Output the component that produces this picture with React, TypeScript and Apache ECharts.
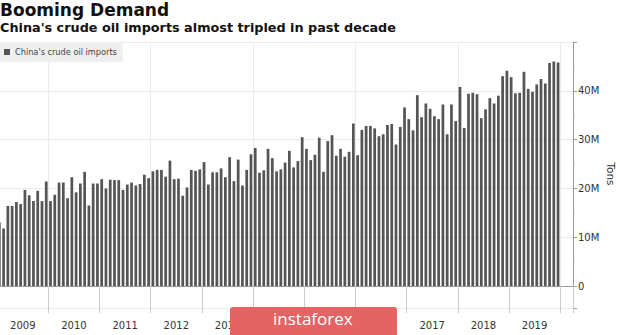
import React, { useEffect, useRef } from 'react';
import * as echarts from 'echarts';

// Monthly crude oil imports, million tons
const years = ['2009', '2010', '2011', '2012', '2013', '2014', '2015', '2016', '2017', '2018', '2019'];
const monthCodes = ['01', '02', '03', '04', '05', '06', '07', '08', '09', '10', '11', '12'];
const trailingEmptyMonths = ['2020-01', '2020-02', '2020-03'];
// year labels hidden behind the watermark in the reference
const hiddenYearLabels = ['2014', '2015', '2016'];

const imports2009 = [13.0, 11.8, 16.4, 16.4, 17.2, 16.8, 19.7, 18.6, 17.4, 19.5, 17.4, 21.4];
const imports2010 = [17.4, 18.7, 21.2, 21.2, 18.0, 22.3, 19.2, 21.0, 23.4, 16.5, 21.0, 21.0];
const imports2011 = [21.9, 20.0, 21.8, 21.7, 21.7, 19.7, 20.8, 21.2, 20.6, 20.9, 22.8, 22.1];
const imports2012 = [23.5, 23.8, 23.8, 22.4, 25.7, 21.9, 22.0, 18.5, 20.2, 23.8, 23.6, 23.9];
const imports2013 = [25.4, 20.8, 23.3, 23.3, 24.1, 22.3, 26.4, 21.5, 25.9, 20.6, 23.8, 27.0];
const imports2014 = [28.3, 23.2, 23.7, 28.1, 26.2, 23.5, 23.9, 25.3, 27.7, 24.3, 25.6, 30.5];
const imports2015 = [28.1, 25.8, 26.9, 30.4, 23.4, 29.7, 30.9, 26.7, 28.1, 26.5, 27.5, 33.3];
const imports2016 = [26.8, 32.0, 32.8, 32.8, 32.3, 30.7, 31.1, 33.0, 33.2, 29.0, 32.6, 36.6];
const imports2017 = [34.2, 31.9, 39.1, 34.6, 37.4, 36.3, 34.8, 34.2, 37.2, 31.1, 37.2, 33.8];
const imports2018 = [40.8, 32.4, 39.4, 39.6, 39.3, 34.4, 36.2, 38.5, 37.4, 39.0, 43.0, 44.1];
const imports2019 = [42.8, 39.5, 39.6, 43.9, 40.4, 39.8, 41.3, 42.4, 41.5, 45.7, 46.0, 45.8];

const yTickLabels = ['0', '10M', '20M', '30M', '40M'];
const seriesName = "China's crude oil imports";
const yAxisTitle = 'Tons';

export default function App() {
  const ref = useRef<HTMLDivElement>(null);

  useEffect(() => {
    if (!ref.current) return;
    const chart = echarts.init(ref.current, null, { renderer: 'svg' });

    const categories = [
      ...years.flatMap((y) => monthCodes.map((m) => `${y}-${m}`)),
      ...trailingEmptyMonths,
    ];
    const values = [
      ...imports2009, ...imports2010, ...imports2011, ...imports2012,
      ...imports2013, ...imports2014, ...imports2015, ...imports2016,
      ...imports2017, ...imports2018, ...imports2019,
    ].map((v) => v * 1e6);

    const font = 'DejaVu Sans';

    chart.setOption({
      animation: false,
      backgroundColor: '#ffffff',
      textStyle: { fontFamily: font },
      title: {
        text: 'Booming Demand',
        subtext: "China's crude oil imports almost tripled in past decade",
        left: 0,
        top: 1,
        padding: 0,
        itemGap: 3,
        textStyle: { fontSize: 17, fontWeight: 'bold', color: '#111', fontFamily: font },
        subtextStyle: { fontSize: 12.8, fontWeight: 'bold', color: '#111', fontFamily: font },
      },
      legend: {
        left: 0,
        top: 42,
        backgroundColor: '#efefef',
        padding: [6, 6, 6, 4],
        itemWidth: 6,
        itemHeight: 6,
        icon: 'rect',
        textStyle: { fontSize: 8.2, color: '#444', fontFamily: font },
        data: [seriesName],
      },
      grid: {
        left: -2.8,
        right: 47,
        top: 42,
        bottom: 27,
        containLabel: false,
        outerBoundsMode: 'none',
      },
      xAxis: {
        type: 'category',
        data: categories,
        boundaryGap: true,
        axisLine: { show: true, lineStyle: { color: '#999' } },
        axisTick: {
          show: true,
          interval: (i: number) => i % 12 === 0,
          length: 27,
          lineStyle: { color: '#cccccc' },
        },
        axisLabel: {
          interval: (i: number, v: string) =>
            i % 12 === 6 && hiddenYearLabels.indexOf(v.slice(0, 4)) < 0,
          formatter: (v: string) => v.slice(0, 4),
          margin: 12,
          fontSize: 10,
          color: '#333',
          fontFamily: font,
          padding: [0, 4.3, 0, 0],
        },
        splitLine: {
          show: true,
          interval: (i: number) => i % 24 === 12,
          lineStyle: { color: '#ebebeb' },
        },
      },
      yAxis: {
        type: 'value',
        position: 'right',
        min: -4.5e6,
        max: 50e6,
        splitNumber: 5,
        axisLine: { show: true, lineStyle: { color: '#999' } },
        axisTick: { show: true, length: 4, lineStyle: { color: '#999' } },
        minorTick: { show: true, splitNumber: 2, length: 2, lineStyle: { color: '#bbb' } },
        axisLabel: {
          margin: 5,
          fontSize: 10,
          color: '#333',
          fontFamily: font,
          formatter: (value: number) => {
            const k = value / 1e7;
            const r = Math.round(k);
            if (Math.abs(k - r) < 1e-6 && r >= 0 && r < yTickLabels.length) return yTickLabels[r];
            return '';
          },
        },
        splitLine: { show: true, lineStyle: { color: '#ebebeb' } },
      },
      series: [
        {
          type: 'bar',
          name: seriesName,
          data: values,
          barWidth: '64%',
          itemStyle: { color: '#555555' },
        },
      ],
      graphic: [
        {
          type: 'text',
          x: 611,
          y: 174,
          rotation: -Math.PI / 2,
          style: {
            text: yAxisTitle,
            fill: '#333',
            fontSize: 10.5,
            fontFamily: font,
            align: 'center',
            verticalAlign: 'middle',
          },
        },
        {
          type: 'rect',
          left: 230,
          top: 307,
          z: 1000,
          shape: { x: 0, y: 0, width: 167, height: 28, r: [3, 3, 0, 0] },
          style: { fill: '#e46464' },
        },
        {
          type: 'text',
          left: 273,
          top: 310,
          z: 1001,
          style: {
            text: 'instaforex',
            fill: '#ffffff',
            fontSize: 17,
            fontFamily: 'Open Sans',
          },
        },
      ],
    });

    return () => chart.dispose();
  }, []);

  return (
    <div
      ref={ref}
      style={{ position: 'absolute', left: 0, top: 0, width: 620, height: 335 }}
    />
  );
}
